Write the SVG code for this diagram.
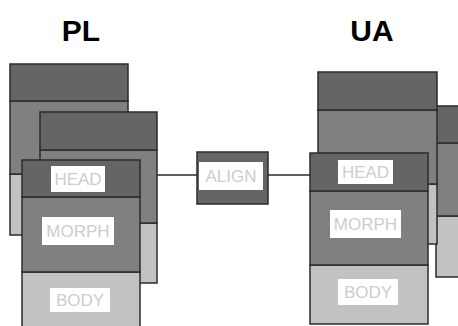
<svg xmlns="http://www.w3.org/2000/svg" width="458" height="326" viewBox="0 0 458 326">
  <style>
    .frame { stroke: #2b2b2b; stroke-width: 1.5; }
    .head { fill: #656565; }
    .morph { fill: #808080; }
    .body { fill: #c2c2c2; }
    .tag { fill: #ffffff; }
    .tagtext { font-family: "Liberation Sans", Arial, sans-serif; font-size: 17px; fill: #cdcdcd; text-anchor: middle; }
    .title { font-family: "Liberation Sans", Arial, sans-serif; font-size: 30px; font-weight: bold; fill: #000000; text-anchor: middle; }
    .link { stroke: #2b2b2b; stroke-width: 1.5; fill: none; }
  </style>

  <rect width="458" height="326" fill="#ffffff"/>

  <text class="title" x="81" y="41">PL</text>
  <text class="title" x="372" y="41">UA</text>

  <g id="connectors">
    <line class="link" x1="140" y1="175" x2="197" y2="175"/>
    <line class="link" x1="268" y1="175" x2="310" y2="175"/>
  </g>

  <!-- PL stacks -->
  <g id="pl-back-1">
    <rect class="frame body" x="10" y="174" width="118" height="61"/>
    <rect class="frame morph" x="10" y="101" width="118" height="73"/>
    <rect class="frame head" x="10" y="64" width="118" height="37"/>
  </g>
  <g id="pl-back-2">
    <rect class="frame body" x="40" y="223" width="117" height="60"/>
    <rect class="frame morph" x="40" y="150" width="117" height="73"/>
    <rect class="frame head" x="40" y="112" width="117" height="38"/>
  </g>
  <g id="pl-front">
    <rect class="frame body" x="22" y="272" width="118" height="60"/>
    <rect class="frame morph" x="22" y="197" width="118" height="75"/>
    <rect class="frame head" x="22" y="160" width="118" height="37"/>
    <rect class="tag" x="51" y="166" width="54" height="26"/>
    <text class="tagtext" x="78" y="185">HEAD</text>
    <rect class="tag" x="42" y="217" width="72" height="28"/>
    <text class="tagtext" x="78" y="237">MORPH</text>
    <rect class="tag" x="50" y="288" width="60" height="24"/>
    <text class="tagtext" x="80" y="306">BODY</text>
  </g>

  <g id="align">
    <rect class="frame head" x="197" y="152" width="71" height="52"/>
    <rect class="tag" x="199" y="162" width="64" height="28"/>
    <text class="tagtext" x="231" y="182">ALIGN</text>
  </g>

  <!-- UA stacks -->
  <g id="ua-back-2">
    <rect class="frame body" x="436" y="216" width="30" height="61"/>
    <rect class="frame morph" x="436" y="143" width="30" height="73"/>
    <rect class="frame head" x="436" y="106" width="30" height="37"/>
  </g>
  <g id="ua-back-1">
    <rect class="frame body" x="318" y="184" width="119" height="60"/>
    <rect class="frame morph" x="318" y="110" width="119" height="74"/>
    <rect class="frame head" x="318" y="72" width="119" height="38"/>
  </g>
  <g id="ua-front">
    <rect class="frame body" x="310" y="265" width="118" height="59"/>
    <rect class="frame morph" x="310" y="191" width="118" height="74"/>
    <rect class="frame head" x="310" y="153" width="118" height="38"/>
    <rect class="tag" x="338" y="160" width="55" height="24"/>
    <text class="tagtext" x="365.5" y="178">HEAD</text>
    <rect class="tag" x="330" y="210" width="71" height="28"/>
    <text class="tagtext" x="365.5" y="230">MORPH</text>
    <rect class="tag" x="338" y="279" width="60" height="26"/>
    <text class="tagtext" x="368" y="298">BODY</text>
  </g>
</svg>
